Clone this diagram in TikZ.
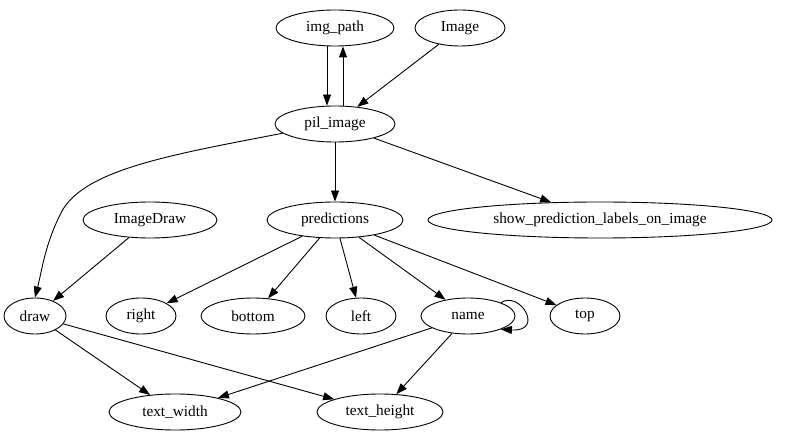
\documentclass[tikz,border=0pt]{standalone}
\usepackage{fontspec}
\setmainfont{Liberation Serif}
\usetikzlibrary{arrows.meta,shapes.geometric}
\begin{document}
\begin{tikzpicture}[x=1pt,y=-1pt,
  nd/.style={draw,ellipse,line width=0.9pt,inner sep=0pt,font=\fontsize{15.3}{17}\selectfont},
  ed/.style={line width=0.9pt,-{Triangle[length=11pt,width=8pt]}}]
\useasboundingbox (0,0) rectangle (798,443);
\node[nd,minimum width=118,minimum height=36] (img) at (335,28) {img\_path};
\node[nd,minimum width=90,minimum height=36] (Image) at (460,28) {Image};
\node[nd,minimum width=120,minimum height=36] (pil) at (335,124) {pil\_image};
\node[nd,minimum width=134,minimum height=36] (ID) at (150,220) {ImageDraw};
\node[nd,minimum width=136,minimum height=36] (pred) at (335,220) {predictions};
\node[nd,minimum width=344,minimum height=36] (show) at (600,220) {show\_prediction\_labels\_on\_image};
\node[nd,minimum width=62,minimum height=36] (draw) at (35,316) {draw};
\node[nd,minimum width=70,minimum height=36] (right) at (141,316) {right};
\node[nd,minimum width=104,minimum height=36] (bottom) at (253,316) {bottom};
\node[nd,minimum width=70,minimum height=36] (left) at (361,316) {left};
\node[nd,minimum width=94,minimum height=36] (name) at (468,316) {name};
\node[nd,minimum width=70,minimum height=36] (top) at (585,316) {top};
\node[nd,minimum width=132,minimum height=36] (tw) at (175,412) {text\_width};
\node[nd,minimum width=126,minimum height=36] (th) at (380,412) {text\_height};

\draw[ed] (img.south -| 327,0) -- (pil.north -| 327,0);
\draw[ed] (pil.north -| 343,0) -- (img.south -| 343,0);
\draw[ed] (Image) -- (pil);
\draw[ed] (pil.190) .. controls (170,155) and (80,170) .. (60,215) .. controls (45,245) and (42,270) .. (draw.north);
\draw[ed] (pil) -- (pred);
\draw[ed] (pil) -- (show);
\draw[ed] (ID) -- (draw);
\draw[ed] (pred) -- (right);
\draw[ed] (pred) -- (bottom);
\draw[ed] (pred) -- (left);
\draw[ed] (pred) -- (name);
\draw[ed] (pred) -- (top);
\draw[ed] (name.22) .. controls (520,290) and (545,332) .. (name.-22);
\draw[ed] (name) -- (tw);
\draw[ed] (name) -- (th);
\draw[ed] (draw) -- (tw);
\draw[ed] (draw) -- (th);
\end{tikzpicture}
\end{document}
